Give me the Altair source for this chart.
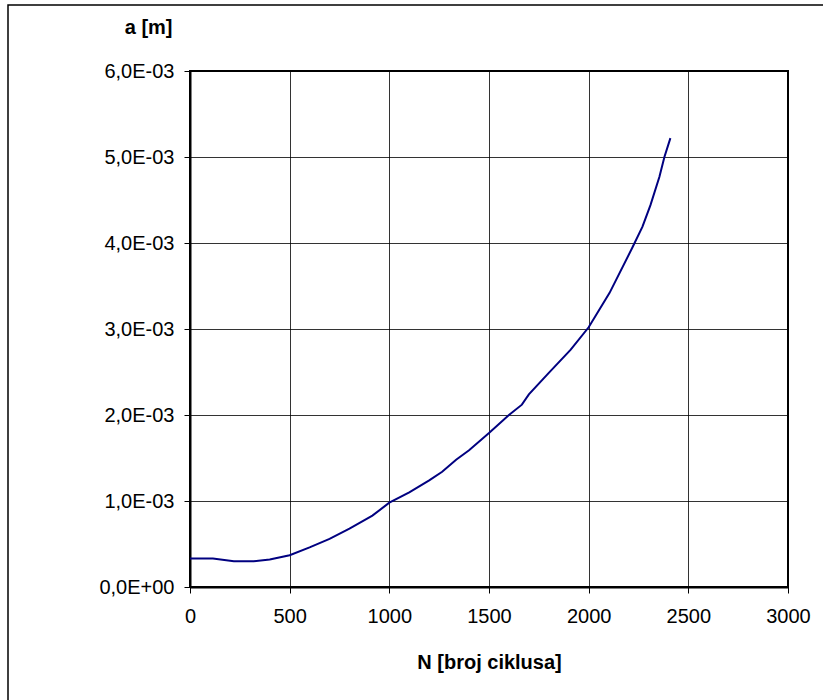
import altair as alt
import pandas as pd

# Data
cycles = [0, 115, 220, 320, 400, 500, 600, 700, 800, 915, 1000, 1100, 1200, 1265,
          1335, 1400, 1500, 1600, 1665, 1700, 1800, 1910, 2000, 2105, 2220, 2270,
          2310, 2355, 2380, 2410]
crack_mm = [0.33, 0.33, 0.30, 0.30, 0.32, 0.37, 0.46, 0.56, 0.68, 0.83, 0.98, 1.10,
            1.24, 1.34, 1.48, 1.59, 1.79, 2.00, 2.12, 2.24, 2.49, 2.76, 3.02, 3.42,
            3.95, 4.19, 4.44, 4.77, 5.00, 5.22]
y_tick_labels = ["0,0E+00", "1,0E-03", "2,0E-03", "3,0E-03", "4,0E-03", "5,0E-03", "6,0E-03"]
x_ticks = [0, 500, 1000, 1500, 2000, 2500, 3000]

df = pd.DataFrame({"N": cycles, "a": [v / 1000 for v in crack_mm]})

FONT = "Liberation Sans"
label_array = "[" + ",".join("'" + s + "'" for s in y_tick_labels) + "]"

line = alt.Chart(df).mark_line(color="#000080", strokeWidth=2).encode(
    x=alt.X("N:Q",
            scale=alt.Scale(domain=[0, 3000], nice=False),
            axis=alt.Axis(values=x_ticks, format="d", title="N [broj ciklusa]",
                          titleY=75, titleBaseline="middle",
                          labelPadding=13, labelFlush=False)),
    y=alt.Y("a:Q",
            scale=alt.Scale(domain=[0, 0.006], nice=False),
            axis=alt.Axis(values=[i / 1000 for i in range(7)],
                          labelExpr=label_array + "[round(datum.value*1000)]",
                          title="a [m]", titleAngle=0, titleAlign="right",
                          titleX=-18, titleY=-44, titleBaseline="middle",
                          labelPadding=10, labelFlush=False)),
)

frame = alt.Chart(pd.DataFrame({"k": [0]})).mark_rect(
    filled=False, stroke="black", strokeWidth=1.5
).encode(
    x=alt.value(-182), x2=alt.value(643),
    y=alt.value(-66), y2=alt.value(639),
)

chart = alt.layer(frame, line).properties(
    width=598, height=516,
    autosize=alt.AutoSizeParams(type="none"),
    padding={"left": 190, "top": 71, "right": 35, "bottom": 113},
    background="white",
).configure_view(
    stroke="black", strokeWidth=2
).configure_axis(
    grid=True, gridColor="black", gridOpacity=0.8, gridWidth=1,
    domainColor="black", domainWidth=2,
    tickColor="black", tickSize=6, tickWidth=1,
    labelFont=FONT, labelFontSize=20, labelColor="black",
    titleFont=FONT, titleFontSize=20, titleFontWeight="bold", titleColor="black",
)

chart.save("out.html", embed_options={"renderer": "svg", "actions": False})
